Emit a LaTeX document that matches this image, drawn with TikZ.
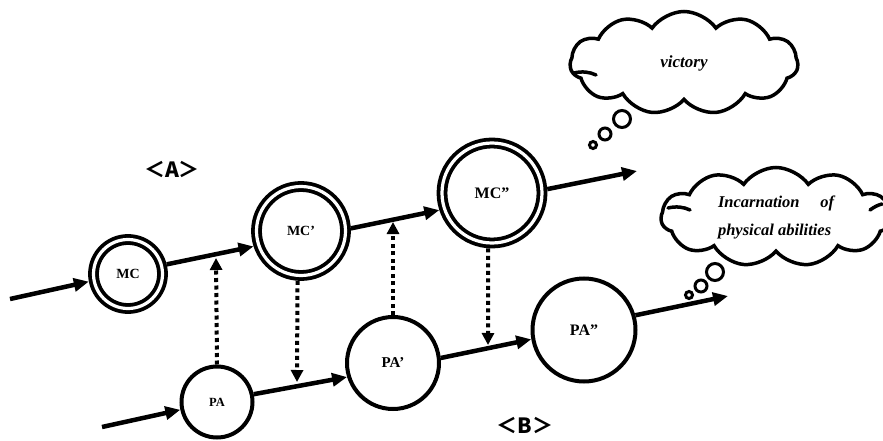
\documentclass[tikz,border=0pt]{standalone}
\usepackage{fontspec}
\setmainfont{Liberation Serif}
\newfontfamily\cjkfont{Noto Sans CJK SC}
\usetikzlibrary{arrows.meta,shapes.symbols,calc}

\begin{document}
\begin{tikzpicture}[x=1pt,y=-1pt,
  flow/.style={line width=4.5pt,-{Triangle[length=15pt,width=13pt]}},
  link/.style={line width=4pt,dash pattern=on 4pt off 3.5pt,-{Triangle[length=12pt,width=12pt]}},
  ring/.style={circle,draw,line width=3.8pt,double=white,double distance=3.2pt,
               inner sep=0pt,outer sep=5.4pt},
  plain/.style={circle,draw,line width=4pt,inner sep=0pt,outer sep=2pt},
  lab/.style={font=\bfseries\fontsize{#1}{#1}\selectfont},
  thought/.style={cloud,draw,line width=3.5pt,cloud puffs=11,cloud puff arc=110,
                  cloud ignores aspect,inner sep=0pt},
  crease/.style={line width=3.5pt,line cap=round},
  bubble/.style={circle,draw,line width=3pt,inner sep=0pt},
  tag/.style={font=\cjkfont\bfseries\fontsize{21}{21}\selectfont}]

\path[use as bounding box] (0,0) rectangle (883,441);
\clip (0,0) rectangle (883,441);

% mental chain (upper row)
\node[ring,minimum size=69pt,lab=14] (MC) at (128,274) {MC};
\node[ring,minimum size=89pt,lab=14] (MCp) at (301,231) {MC’};
\node[ring,minimum size=100pt,lab=16] (MCpp) at (492,193) {MC”};

% physical chain (lower row)
\node[plain,minimum size=71pt,lab=12.5] (PA) at (217,402) {PA};
\node[plain,minimum size=92pt,lab=15] (PAp) at (393,363) {PA’};
\node[plain,minimum size=103pt,lab=16] (PApp) at (584,330) {PA”};

% free ends of the flow arrows
\coordinate (mcin) at (10,299);
\coordinate (mcout) at (637,171);
\coordinate (pain) at (102,427);
\coordinate (paout) at (728,296);

\draw[flow] (mcin) -- (MC.191);
\draw[flow] (MC.14) -- (MCp.198);
\draw[flow] (MCp.3) -- (MCpp.198);
\draw[flow] (MCpp.4) -- (mcout);

\draw[flow] (pain) -- (PA.192);
\draw[flow] (PA.12) -- (PAp.197);
\draw[flow] (PAp.6) -- (PApp.190);
\draw[flow] (PApp.16) -- (paout);

% cross links between the rows
\coordinate (t1) at (216,258);
\coordinate (t2) at (297,382);
\coordinate (t3) at (393,222);
\coordinate (t4) at (488,345);
\draw[link] (PA.north) -- (t1);
\draw[link] (MCp.266) -- (t2);
\draw[link] (PAp.north) -- (t3);
\draw[link] (MCpp.266) -- (t4);

% row labels
\node[tag] (labA) at (172,169) {＜A＞};
\node[tag] (labB) at (525,425) {＜B＞};

% thought clouds
\node[thought,minimum width=228pt,minimum height=103pt,
      font=\bfseries\itshape\fontsize{17}{17}\selectfont] (win) at (684,63) {victory};
\draw[crease] (574,73) .. controls (582,71) and (590,72) .. (596,75);
\node[bubble,minimum size=7pt] (w1) at (593,145) {};
\node[bubble,minimum size=12pt] (w2) at (605,134) {};
\node[bubble,minimum size=17pt] (w3) at (622,119) {};

\node[thought,minimum width=230pt,minimum height=99pt,align=left,
      font=\bfseries\itshape\fontsize{16.5}{28}\selectfont] (body) at (776,217)
  {\makebox[116pt][s]{Incarnation\hfill of}\\physical abilities};
\draw[crease] (668,208) .. controls (676,206) and (684,207) .. (690,210);
\draw[crease] (870,210) .. controls (874,207) and (878,205) .. (882,204);
\node[bubble,minimum size=7pt] (b1) at (689,295) {};
\node[bubble,minimum size=12pt] (b2) at (701,286) {};
\node[bubble,minimum size=17pt] (b3) at (715,272) {};
\end{tikzpicture}
\end{document}
